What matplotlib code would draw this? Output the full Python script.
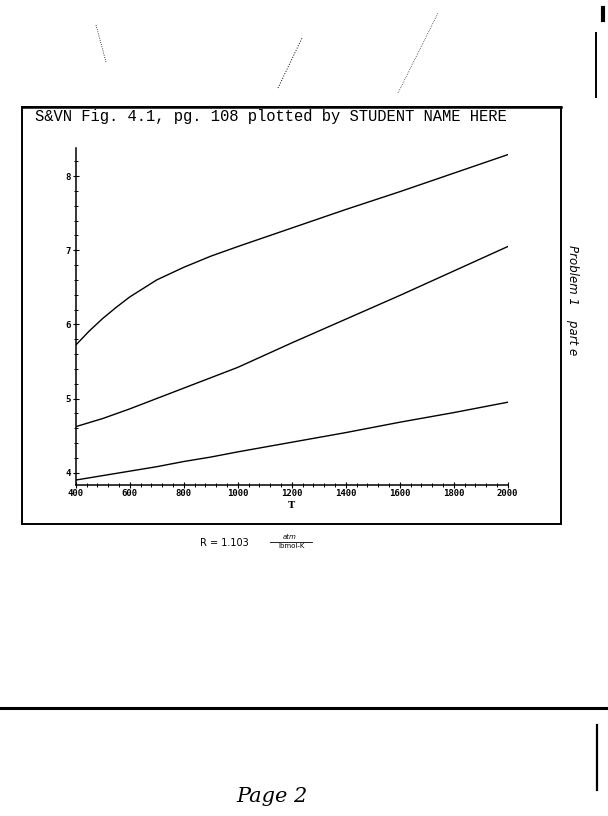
#!/usr/bin/python

import matplotlib
matplotlib.use('Agg')
import matplotlib.pyplot as plt
from matplotlib.lines import Line2D
from matplotlib.patches import Rectangle

# data
T = [400, 500, 600, 700, 800, 900, 1000, 1200, 1400, 1600, 1800, 2000]
T_upper = [400, 450, 500, 550, 600, 700, 800, 900, 1000, 1200, 1400, 1600, 1800, 2000]
upper = [5.72, 5.91, 6.08, 6.23, 6.37, 6.60, 6.77, 6.92, 7.05, 7.30, 7.55, 7.79, 8.04, 8.29]
middle = [4.62, 4.73, 4.86, 5.00, 5.14, 5.28, 5.42, 5.75, 6.07, 6.39, 6.72, 7.05]
lower = [3.90, 3.96, 4.02, 4.08, 4.15, 4.21, 4.28, 4.41, 4.54, 4.68, 4.81, 4.95]

x_ticks = [400, 600, 800, 1000, 1200, 1400, 1600, 1800, 2000]
y_ticks = [4, 5, 6, 7, 8]

title = 'S&VN Fig. 4.1, pg. 108 plotted by STUDENT NAME HERE'

W, H = 608, 816
fig = plt.figure(figsize=(W / 100, H / 100), dpi=100)


def fx(px):
    return px / W


def fy(py):
    return 1 - py / H


def hline(x0, x1, y, lw, ls='-'):
    fig.add_artist(Line2D([fx(x0), fx(x1)], [fy(y), fy(y)], color='black', lw=lw, ls=ls))


def seg(x0, y0, x1, y1, lw, ls='-'):
    fig.add_artist(Line2D([fx(x0), fx(x1)], [fy(y0), fy(y1)], color='black', lw=lw, ls=ls))


# plot frame
fig.add_artist(Rectangle((fx(22), fy(524)), fx(561) - fx(22), fy(107) - fy(524),
                         fill=False, ec='black', lw=1.4))
hline(22, 561, 107, 1.8)
fig.text(fx(35), fy(116), title, family='Liberation Mono', fontsize=11.2, va='center', ha='left')

ax = fig.add_axes([fx(75.7), fy(484.5), fx(507.7) - fx(75.7), fy(148) - fy(484.5)])
ax.plot(T_upper, upper, color='black', lw=1.0)
ax.plot(T, middle, color='black', lw=1.0)
ax.plot(T, lower, color='black', lw=1.0)

ax.set_xlim(400, 2000)
ax.set_ylim(3.84, 8.38)
ax.spines['top'].set_visible(False)
ax.spines['right'].set_visible(False)
ax.spines['left'].set_linewidth(1.1)
ax.spines['bottom'].set_linewidth(1.1)
ax.set_xticks(x_ticks)
ax.set_yticks(y_ticks)
ax.set_xticks(range(400, 2001, 40), minor=True)
ax.set_yticks([3.8 + 0.2 * i for i in range(1, 23)], minor=True)
ax.tick_params(which='major', direction='inout', length=5, width=0.8, labelsize=6.5, pad=1)
ax.tick_params(which='minor', direction='inout', length=3, width=0.7)
for lab in ax.get_xticklabels() + ax.get_yticklabels():
    lab.set_family('DejaVu Sans Mono')
    lab.set_fontweight('bold')
ax.set_xlabel('T', family='DejaVu Serif', fontsize=7, fontweight='bold', labelpad=2)

# handwritten notes
fig.text(fx(200), fy(543), 'R = 1.103', family='DejaVu Sans', fontsize=7, va='center')
fig.text(fx(290), fy(537), 'atm', family='DejaVu Sans', fontsize=5, style='italic', va='center', ha='center')
hline(270, 312, 541.5, 0.6)
fig.text(fx(292), fy(546), 'lbmol-K', family='DejaVu Sans', fontsize=5, va='center', ha='center')
fig.text(fx(573), fy(300), 'Problem 1    part e', family='DejaVu Sans', fontsize=8.5,
         style='italic', rotation=270, va='center', ha='center')
fig.text(fx(272), fy(796), 'Page 2', family='DejaVu Serif', fontsize=15, style='italic',
         va='center', ha='center')

# page edges and scanner marks
hline(0, 608, 708, 2.2)
seg(597, 725, 597, 790, 1.6)
seg(596, 33, 596, 97, 1.4)
seg(603, 8, 603, 20, 3.0)
seg(96, 25, 106, 62, 0.6, ':')
seg(278, 88, 302, 38, 0.7, ':')
seg(398, 93, 438, 13, 0.5, ':')

fig.savefig('out.png', dpi=100)
